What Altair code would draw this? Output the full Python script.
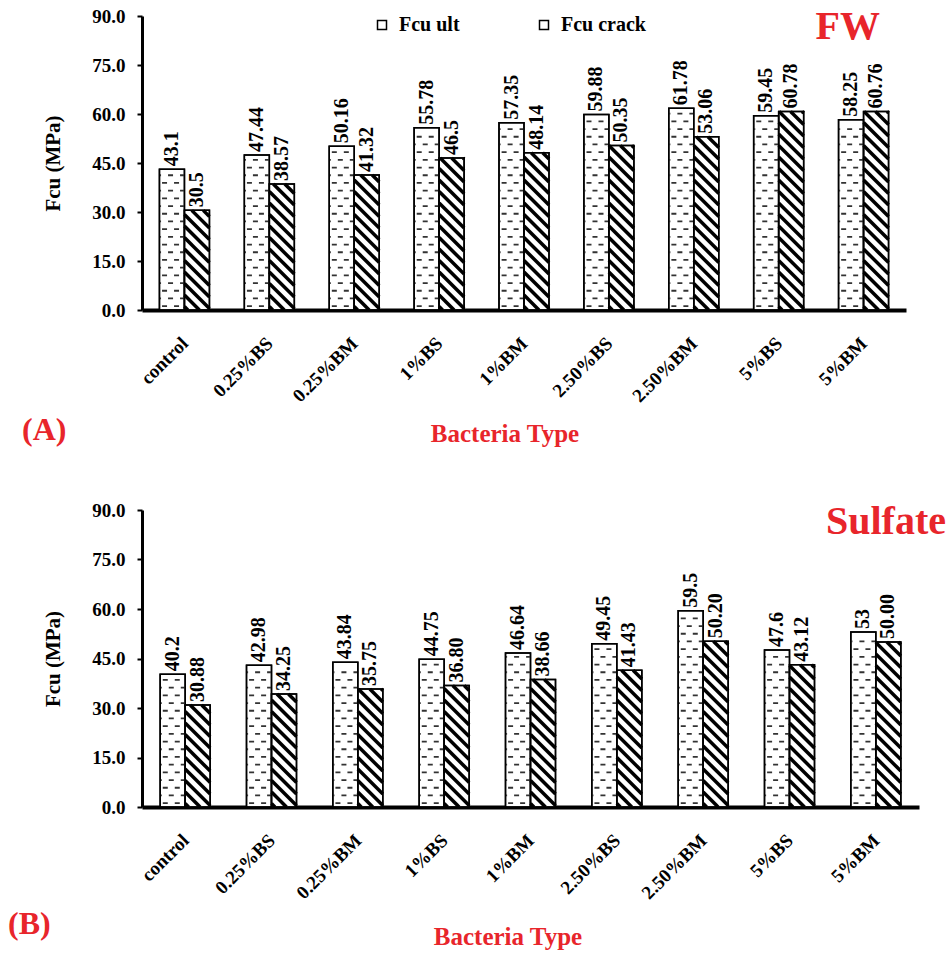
import json
import pandas as pd
import altair as alt

categories = ["control", "0.25%BS", "0.25%BM", "1%BS", "1%BM", "2.50%BS", "2.50%BM", "5%BS", "5%BM"]
series = ["Fcu ult", "Fcu crack"]

fw_ult = [43.1, 47.44, 50.16, 55.78, 57.35, 59.88, 61.78, 59.45, 58.25]
fw_crack = [30.5, 38.57, 41.32, 46.5, 48.14, 50.35, 53.06, 60.78, 60.76]
fw_ult_labels = ["43.1", "47.44", "50.16", "55.78", "57.35", "59.88", "61.78", "59.45", "58.25"]
fw_crack_labels = ["30.5", "38.57", "41.32", "46.5", "48.14", "50.35", "53.06", "60.78", "60.76"]

sul_ult = [40.2, 42.98, 43.84, 44.75, 46.64, 49.45, 59.5, 47.6, 53]
sul_crack = [30.88, 34.25, 35.75, 36.80, 38.66, 41.43, 50.20, 43.12, 50.00]
sul_ult_labels = ["40.2", "42.98", "43.84", "44.75", "46.64", "49.45", "59.5", "47.6", "53"]
sul_crack_labels = ["30.88", "34.25", "35.75", "36.80", "38.66", "41.43", "50.20", "43.12", "50.00"]

y_ticks = [0, 15, 30, 45, 60, 75, 90]

FONT = "Liberation Serif"
RED = "#e8252b"

# style constants (pixels)
BAR_PX = 25.0
DASH_ROW_PX = 7.7
STRIPE_PERIOD_PX = 11.5


def panel(ult, crack, ult_lab, crack_lab, W, H, name, name_x, name_y, tag, tag_x, tag_y, xt_x, xt_y, leg_x, leg_y):
    ppx = W / 9.0
    ppy = H / 90.0
    bw = BAR_PX / ppx
    rows = []
    for i, c in enumerate(categories):
        center = i + 0.5
        rows.append(dict(cat=c, series=series[0], x0=center - bw, x1=center, xm=center - bw / 2,
                         v=ult[i], z=0.0, lab=ult_lab[i]))
        rows.append(dict(cat=c, series=series[1], x0=center, x1=center + bw, xm=center + bw / 2,
                         v=crack[i], z=0.0, lab=crack_lab[i]))
    bars = pd.DataFrame(rows)

    # dash pattern rows for "Fcu ult"
    step = DASH_ROW_PX / ppy
    even, odd = [], []
    for r in rows:
        if r["series"] != series[0]:
            continue
        k = 0
        y = step * 0.5
        while y < r["v"] - step * 0.4:
            (even if k % 2 == 0 else odd).append(dict(x0=r["x0"] + 0.6 / ppx, x1=r["x1"] - 0.6 / ppx, v=y))
            y += step
            k += 1
    even = pd.DataFrame(even)
    odd = pd.DataFrame(odd)

    # diagonal stripes for "Fcu crack"
    s = ppx / ppy
    period = STRIPE_PERIOD_PX / ppy
    segs = []
    for r in rows:
        if r["series"] != series[1]:
            continue
        xl, xr, h = r["x0"], r["x1"], r["v"]
        c = period * 0.3
        while c < h + s * (xr - xl):
            xs = max(xl, xl + (c - h) / s)
            xe = min(xr, xl + c / s)
            if xe - xs > 1e-6:
                segs.append(dict(x0=xs, v=c - s * (xs - xl), x1=xe, v2=c - s * (xe - xl)))
            c += period
    segs = pd.DataFrame(segs)

    xaxis = alt.Axis(values=[i + 0.5 for i in range(len(categories))],
                     labelExpr=json.dumps(categories) + "[floor(datum.value)]",
                     title=None, grid=False, ticks=False, domainWidth=4, domainColor="black",
                     labelAngle=-45, labelAlign="right", labelBaseline="middle", labelPadding=30,
                     labelFont=FONT, labelFontSize=19, labelFontWeight="bold", labelColor="black")
    yaxis = alt.Axis(values=y_ticks, format=".1f", title="Fcu (MPa)", grid=False,
                     domainWidth=3, domainColor="black", tickColor="black", tickWidth=2, tickSize=5,
                     labelPadding=12, labelFont=FONT, labelFontSize=19, labelFontWeight="bold",
                     labelColor="black", titleFont=FONT, titleFontSize=21, titleFontWeight="bold",
                     titleColor="black", titlePadding=28)
    xs_ = alt.Scale(domain=[0, 9], nice=False, zero=False)
    ys_ = alt.Scale(domain=[0, 90], nice=False)

    X = lambda f: alt.X(f + ":Q", scale=xs_, axis=xaxis)
    Y = lambda f: alt.Y(f + ":Q", scale=ys_, axis=yaxis)

    base_bars = alt.Chart(bars).mark_rect(stroke="black", strokeWidth=1.5).encode(
        x=X("x0"), x2="x1", y=Y("v"), y2="z",
        color=alt.Color("series:N", scale=alt.Scale(domain=series, range=["white", "white"]),
                        legend=alt.Legend(orient="none", legendX=leg_x, legendY=leg_y,
                                          direction="horizontal", title=None,
                                          labelFont=FONT, labelFontSize=20, labelFontWeight="bold",
                                          labelColor="black", symbolType="square", symbolSize=81,
                                          symbolStrokeColor="black", symbolStrokeWidth=1.5,
                                          symbolFillColor="white",
                                          columnPadding=74, labelOffset=7)))
    d_even = alt.Chart(even).mark_rule(color="#333333", strokeWidth=1.8, strokeDash=[5, 7],
                                       strokeDashOffset=-2).encode(x=X("x0"), x2="x1", y=Y("v"))
    d_odd = alt.Chart(odd).mark_rule(color="#333333", strokeWidth=1.8, strokeDash=[5, 7],
                                     strokeDashOffset=-8).encode(x=X("x0"), x2="x1", y=Y("v"))
    stripes = alt.Chart(segs).mark_rule(color="black", strokeWidth=3.5, strokeCap="butt").encode(
        x=X("x0"), x2="x1", y=Y("v"), y2="v2")
    outline = alt.Chart(bars).mark_rect(fillOpacity=0, stroke="black", strokeWidth=1.5).encode(
        x=X("x0"), x2="x1", y=Y("v"), y2="z")
    labels = alt.Chart(bars).mark_text(angle=270, align="left", baseline="middle", dx=3,
                                       font=FONT, fontSize=20, fontWeight="bold", color="black").encode(
        x=X("xm"), y=Y("v"), text="lab:N")
    name_t = alt.Chart(pd.DataFrame({"t": [name]})).mark_text(
        align="right", baseline="alphabetic", font=FONT, fontSize=40, fontWeight="bold", color=RED).encode(
        text="t:N", x=alt.value(name_x), y=alt.value(name_y))
    tag_t = alt.Chart(pd.DataFrame({"t": [tag]})).mark_text(
        align="left", baseline="middle", font=FONT, fontSize=32, fontWeight="bold", color=RED).encode(
        text="t:N", x=alt.value(tag_x), y=alt.value(tag_y))
    xt_t = alt.Chart(pd.DataFrame({"t": ["Bacteria Type"]})).mark_text(
        align="center", baseline="middle", font=FONT, fontSize=25, fontWeight="bold", color=RED).encode(
        text="t:N", x=alt.value(xt_x), y=alt.value(xt_y))

    return alt.layer(base_bars, d_even, d_odd, stripes, outline, labels, name_t, tag_t, xt_t).properties(
        width=W, height=H)


A = panel(fw_ult, fw_crack, fw_ult_labels, fw_crack_labels, 764, 294,
          "FW", 738, 23, "(A)", -120, 414, 363, 418, 230, -1)
B = panel(sul_ult, sul_crack, sul_ult_labels, sul_crack_labels, 777, 297,
          "Sulfate", 804, 24, "(B)", -134, 414, 366, 427, 232, -1)

chart = alt.vconcat(A, B, spacing=200, bounds="flush").properties(
    padding={"left": 8, "top": 7, "right": 0, "bottom": 5}
).configure_view(strokeWidth=0)

chart.save("out.html", embed_options={"renderer": "svg", "actions": False})
